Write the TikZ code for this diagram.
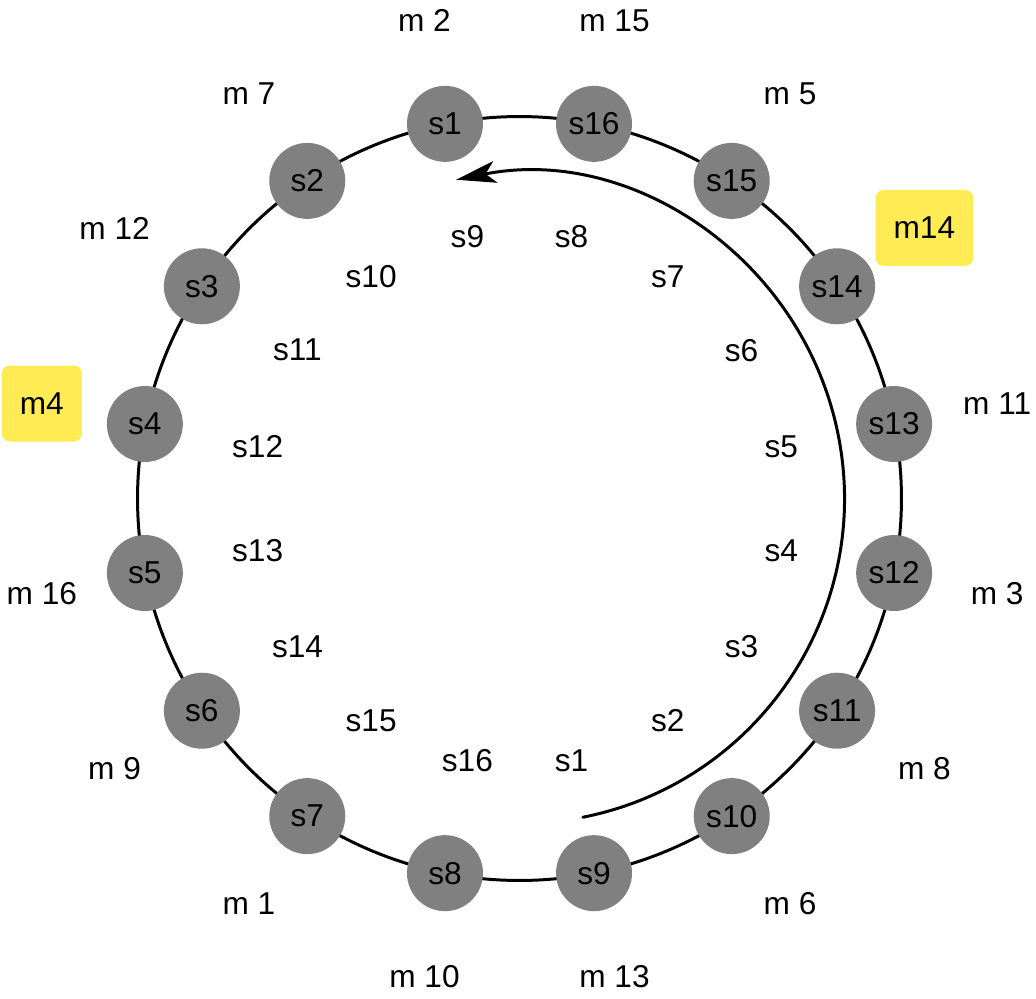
\documentclass[tikz,border=0pt]{standalone}
\usepackage{fontspec}
\setmainfont{Liberation Sans}
\usetikzlibrary{arrows.meta,backgrounds}
\definecolor{srvgray}{RGB}{128,128,128}
\definecolor{hotyellow}{RGB}{255,236,84}

\begin{document}
\begin{tikzpicture}[line cap=round,line join=round,
    font=\fontsize{9}{11}\selectfont,
    srv/.style={circle,fill=srvgray,minimum size=0.76cm,inner sep=0pt},
    lbl/.style={inner sep=0pt},
    hot/.style={fill=hotyellow,rounded corners=0.08cm,inner xsep=0.18cm,
      inner ysep=0pt,minimum height=0.76cm}]
  \useasboundingbox (-5.195,-4.995) rectangle (5.165,4.985);
  \node[srv] (s1) at (101.25:3.82) {s1};
  \node[srv] (s2) at (123.75:3.82) {s2};
  \node[srv] (s3) at (146.25:3.82) {s3};
  \node[srv] (s4) at (168.75:3.82) {s4};
  \node[srv] (s5) at (191.25:3.82) {s5};
  \node[srv] (s6) at (213.75:3.82) {s6};
  \node[srv] (s7) at (236.25:3.82) {s7};
  \node[srv] (s8) at (258.75:3.82) {s8};
  \node[srv] (s9) at (281.25:3.82) {s9};
  \node[srv] (s10) at (303.75:3.82) {s10};
  \node[srv] (s11) at (326.25:3.82) {s11};
  \node[srv] (s12) at (348.75:3.82) {s12};
  \node[srv] (s13) at (11.25:3.82) {s13};
  \node[srv] (s14) at (33.75:3.82) {s14};
  \node[srv] (s15) at (56.25:3.82) {s15};
  \node[srv] (s16) at (78.75:3.82) {s16};
  \begin{scope}[on background layer]
    \foreach \a/\b in {1/2,2/3,3/4,4/5,5/6,6/7,7/8,8/9,9/10,10/11,11/12,12/13,13/14,14/15,15/16,16/1}
      \draw[line width=0.85pt] (s\a.center) to[bend right=11.25,looseness=0.86] (s\b.center);
  \end{scope}
  \node[lbl] (l1) at (281.25:2.67) {s1};
  \node[lbl] (l2) at (303.75:2.67) {s2};
  \node[lbl] (l3) at (326.25:2.67) {s3};
  \node[lbl] (l4) at (348.75:2.67) {s4};
  \node[lbl] (l5) at (11.25:2.67) {s5};
  \node[lbl] (l6) at (33.75:2.67) {s6};
  \node[lbl] (l7) at (56.25:2.67) {s7};
  \node[lbl] (l8) at (78.75:2.67) {s8};
  \node[lbl] (l9) at (101.25:2.67) {s9};
  \node[lbl] (l10) at (123.75:2.67) {s10};
  \node[lbl] (l11) at (146.25:2.67) {s11};
  \node[lbl] (l12) at (168.75:2.67) {s12};
  \node[lbl] (l13) at (191.25:2.67) {s13};
  \node[lbl] (l14) at (213.75:2.67) {s14};
  \node[lbl] (l15) at (236.25:2.67) {s15};
  \node[lbl] (l16) at (258.75:2.67) {s16};
  \coordinate (arrS) at (-78.75:3.25);
  \draw[line width=0.85pt,-{Stealth[length=0.4cm,width=0.22cm,inset=0.1cm]}]
    (arrS) arc[start angle=-78.75,end angle=101.25,radius=3.25];
  \node[lbl] (m2) at (101.25:4.87) {m 2};
  \node[lbl] (m15) at (78.75:4.87) {m 15};
  \node[lbl] (m5) at (56.25:4.87) {m 5};
  \node[hot] (m14) at (33.75:4.87) {m14};
  \node[lbl] (m11) at (11.25:4.87) {m 11};
  \node[lbl] (m3) at (-11.25:4.87) {m 3};
  \node[lbl] (m8) at (-33.75:4.87) {m 8};
  \node[lbl] (m6) at (-56.25:4.87) {m 6};
  \node[lbl] (m13) at (-78.75:4.87) {m 13};
  \node[lbl] (m10) at (-101.25:4.87) {m 10};
  \node[lbl] (m1) at (-123.75:4.87) {m 1};
  \node[lbl] (m9) at (-146.25:4.87) {m 9};
  \node[lbl] (m16) at (-168.75:4.87) {m 16};
  \node[hot] (m4) at (168.75:4.87) {m4};
  \node[lbl] (m12) at (146.25:4.87) {m 12};
  \node[lbl] (m7) at (123.75:4.87) {m 7};
\end{tikzpicture}
\end{document}
